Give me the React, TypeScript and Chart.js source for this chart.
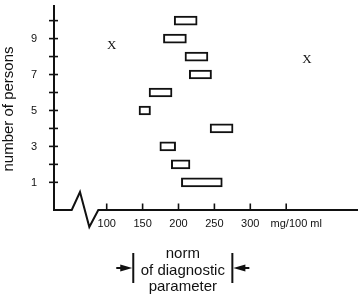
import React, { useEffect, useRef } from 'react';
import { Chart, registerables } from 'chart.js';

Chart.register(...registerables);

// person index (y) and observed range of the diagnostic parameter (x)
const persons = [1, 2, 3, 4, 5, 6, 7, 8, 9, 10];
const rangeLow = [204, 190, 174, 244, 145, 159, 215, 209, 179, 194];
const rangeHigh = [261, 216, 196, 276, 161, 191, 246, 241, 211, 226];

// isolated "X" marks
const outlierX = [107, 379];
const outlierY = [8.62, 7.86];
const outlierLabel = 'X';

// axes
const yTicks = [1, 2, 3, 4, 5, 6, 7, 8, 9, 10];
const yTickLabels = ['1', '', '3', '', '5', '', '7', '', '9', ''];
const xTicks = [100, 150, 200, 250, 300, 350];
const xTickLabels = ['100', '150', '200', '250', '300', ''];
const unitLabel = 'mg/100 ml';
const unitLabelAt = 364;
const axisBreak = [51.3, 62.8, 75.8, 88.3];
const yTitle = 'number of persons';

// norm annotation
const normRange = [137, 275];
const normText = ['norm', 'of diagnostic', 'parameter'];

const SANS = '"Liberation Sans", Arial, Helvetica, sans-serif';
const SERIF = '"Liberation Serif", "Times New Roman", serif';
const INK = '#111';

const overlay = {
  id: 'overlay',
  afterDraw(chart: any) {
    const { ctx, chartArea: a } = chart;
    const x = chart.scales.x;
    const y = chart.scales.y;
    const yb = a.bottom;
    ctx.save();
    ctx.strokeStyle = INK;
    ctx.fillStyle = INK;
    ctx.lineJoin = 'miter';

    // y axis
    ctx.lineWidth = 2;
    ctx.beginPath();
    ctx.moveTo(a.left, a.top);
    ctx.lineTo(a.left, yb + 1);
    ctx.stroke();

    // x axis with break
    ctx.beginPath();
    ctx.moveTo(a.left - 1, yb);
    ctx.lineTo(x.getPixelForValue(axisBreak[0]), yb);
    ctx.lineTo(x.getPixelForValue(axisBreak[1]), yb - 18);
    ctx.lineTo(x.getPixelForValue(axisBreak[2]), yb + 17);
    ctx.lineTo(x.getPixelForValue(axisBreak[3]), yb);
    ctx.lineTo(a.right, yb);
    ctx.stroke();

    // y ticks + labels
    ctx.lineWidth = 1.6;
    ctx.font = `11px ${SANS}`;
    ctx.textAlign = 'right';
    ctx.textBaseline = 'alphabetic';
    yTicks.forEach((v, i) => {
      const py = y.getPixelForValue(v);
      ctx.beginPath();
      ctx.moveTo(a.left - 5, py);
      ctx.lineTo(a.left + 4, py);
      ctx.stroke();
      if (yTickLabels[i]) ctx.fillText(yTickLabels[i], a.left - 17, py + 3.7);
    });

    // x ticks + labels
    ctx.textAlign = 'center';
    xTicks.forEach((v, i) => {
      const px = x.getPixelForValue(v);
      ctx.beginPath();
      ctx.moveTo(px, yb);
      ctx.lineTo(px, yb - 6.5);
      ctx.stroke();
      if (xTickLabels[i]) ctx.fillText(xTickLabels[i], px, yb + 16.5);
    });
    ctx.fillText(unitLabel, x.getPixelForValue(unitLabelAt), yb + 16.5);

    // y title
    ctx.save();
    ctx.font = `15px ${SANS}`;
    ctx.translate(9, (a.top + a.bottom) / 2 + 1.5);
    ctx.rotate(-Math.PI / 2);
    ctx.textAlign = 'center';
    ctx.textBaseline = 'middle';
    ctx.fillText(yTitle, 0, 0);
    ctx.restore();

    // X marks
    ctx.font = `13px ${SERIF}`;
    ctx.textAlign = 'center';
    ctx.textBaseline = 'middle';
    outlierX.forEach((v, i) => {
      ctx.fillText(outlierLabel, x.getPixelForValue(v), y.getPixelForValue(outlierY[i]));
    });

    // norm annotation
    const lx = x.getPixelForValue(normRange[0]);
    const rx = x.getPixelForValue(normRange[1]);
    const ay = yb + 58;
    ctx.lineWidth = 2;
    [lx, rx].forEach((px, k) => {
      ctx.beginPath();
      ctx.moveTo(px, yb + 43);
      ctx.lineTo(px, yb + 73);
      ctx.stroke();
      const dir = k === 0 ? -1 : 1;
      ctx.beginPath();
      ctx.moveTo(px + dir * 17, ay);
      ctx.lineTo(px + dir * 8, ay);
      ctx.stroke();
      ctx.beginPath();
      ctx.moveTo(px + dir * 1, ay);
      ctx.lineTo(px + dir * 13, ay - 3.5);
      ctx.lineTo(px + dir * 13, ay + 3.5);
      ctx.closePath();
      ctx.fill();
    });
    ctx.font = `15px ${SANS}`;
    ctx.textAlign = 'center';
    ctx.textBaseline = 'alphabetic';
    const cx = (lx + rx) / 2;
    const bases = [48, 64.5, 81];
    normText.forEach((t, i) => ctx.fillText(t, cx, yb + bases[i]));

    ctx.restore();
  },
};

export default function App() {
  const ref = useRef<HTMLCanvasElement | null>(null);

  useEffect(() => {
    document.body.style.margin = '0';
    const canvas = ref.current;
    if (!canvas) return;
    const data = persons.map((p, i) => ({ x: [rangeLow[i], rangeHigh[i]], y: p }));
    const chart = new Chart(canvas, {
      type: 'bar',
      data: {
        datasets: [
          {
            data: data as any,
            barThickness: 9,
            borderWidth: 2,
            borderColor: INK,
            backgroundColor: '#ffffff',
            borderSkipped: false,
          } as any,
        ],
      },
      options: {
        indexAxis: 'y',
        animation: false,
        responsive: false,
        maintainAspectRatio: false,
        devicePixelRatio: 1,
        layout: { padding: { left: 54, right: 4, top: 5, bottom: 84 } },
        plugins: { legend: { display: false }, tooltip: { enabled: false } },
        scales: {
          x: { type: 'linear', min: 26.6, max: 450, display: false, offset: false },
          y: { type: 'linear', min: -0.54, max: 10.87, display: false, offset: false },
        },
      } as any,
      plugins: [overlay],
    });
    return () => chart.destroy();
  }, []);

  return (
    <div style={{ width: 362, height: 294, background: '#fff' }}>
      <canvas ref={ref} width={362} height={294} style={{ display: 'block', width: 362, height: 294 }} />
    </div>
  );
}
